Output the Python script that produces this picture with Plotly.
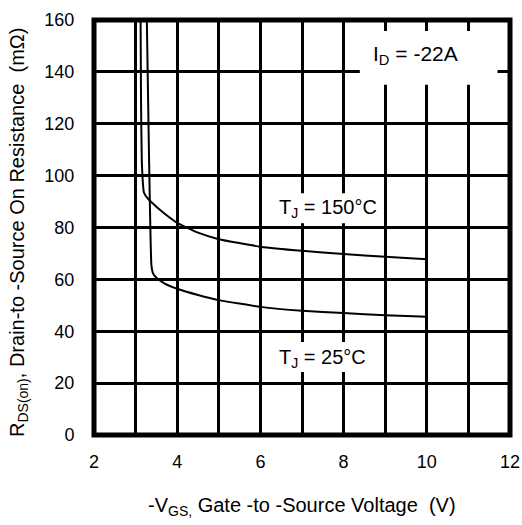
import plotly.graph_objects as go

# Data
v150 = [3.12, 3.13, 3.15, 3.20, 3.30, 3.50, 3.70, 4.00, 4.50, 5.00, 6.00, 7.00, 8.00, 9.00, 10.00]
r150 = [160, 130, 105, 93.5, 91.0, 88.0, 85.3, 81.8, 78.0, 75.5, 72.6, 71.0, 69.8, 68.7, 67.8]
v25 = [3.27, 3.32, 3.38, 3.42, 3.50, 3.70, 4.00, 4.50, 5.00, 6.00, 7.00, 8.00, 9.00, 10.00]
r25 = [160, 110, 65.5, 62.3, 60.6, 58.4, 56.4, 54.0, 52.0, 49.4, 47.9, 47.0, 46.2, 45.6]
x_ticks = [2, 4, 6, 8, 10, 12]
y_ticks = [0, 20, 40, 60, 80, 100, 120, 140, 160]

FONT = "Liberation Sans, Arial, sans-serif"

fig = go.Figure()
fig.add_trace(go.Scatter(x=v150, y=r150, mode="lines", line=dict(color="black", width=2, shape="spline", smoothing=0.4), showlegend=False))
fig.add_trace(go.Scatter(x=v25, y=r25, mode="lines", line=dict(color="black", width=2, shape="spline", smoothing=0.4), showlegend=False))

grid = dict(showgrid=True, gridcolor="black", gridwidth=3, zeroline=False, showline=False,
            ticks="outside", tickcolor="rgba(0,0,0,0)", automargin=False,
            tickfont=dict(family=FONT, size=18, color="black"))

fig.update_xaxes(range=[2, 12], tickvals=x_ticks, ticklen=10,
                 minor=dict(dtick=1, tick0=2, showgrid=True, gridcolor="black", gridwidth=3, ticks=""),
                 **grid)
fig.update_yaxes(range=[0, 160], tickvals=y_ticks, ticklen=15, **grid)

shapes = [
    dict(type="rect", xref="x", yref="y", x0=8.39, x1=11.7, y0=135, y1=155.8,
         fillcolor="white", line=dict(width=0), layer="above"),
    dict(type="rect", xref="x", yref="y", x0=6.4, x1=8.85, y0=81.6, y1=93.2,
         fillcolor="white", line=dict(width=0), layer="above"),
    dict(type="rect", xref="x", yref="y", x0=6.4, x1=8.8, y0=24.3, y1=35.9,
         fillcolor="white", line=dict(width=0), layer="above"),
    dict(type="rect", xref="paper", yref="paper", x0=0, x1=1, y0=0, y1=1,
         line=dict(color="black", width=5), layer="above"),
]

annotations = [
    dict(x=9.72, y=146.5, xref="x", yref="y", text="I<sub>D</sub> = -22A", showarrow=False,
         font=dict(family=FONT, size=21, color="black")),
    dict(x=7.63, y=87.5, xref="x", yref="y", text="T<sub>J</sub> = 150°C", showarrow=False,
         font=dict(family=FONT, size=20, color="black")),
    dict(x=7.5, y=29.5, xref="x", yref="y", text="T<sub>J</sub> = 25°C", showarrow=False,
         font=dict(family=FONT, size=20, color="black")),
    dict(x=0.5, y=-0.173, xref="paper", yref="paper", xanchor="center", yanchor="middle",
         text="-V<sub>GS,</sub> Gate -to -Source Voltage  (V)", showarrow=False,
         font=dict(family=FONT, size=20, color="black")),
    dict(x=-0.18, y=0.487, xref="paper", yref="paper", xanchor="center", yanchor="middle",
         text="R<sub>DS(on)</sub>, Drain-to -Source On Resistance  (mΩ)", textangle=-90, showarrow=False,
         font=dict(family=FONT, size=20, color="black")),
]

fig.update_layout(width=522, height=525, margin=dict(l=94, r=12, t=20, b=90),
                  plot_bgcolor="white", paper_bgcolor="white",
                  shapes=shapes, annotations=annotations)

fig.write_html("out.html", config={"displayModeBar": False},
               post_script="document.body.style.margin='0px';")
